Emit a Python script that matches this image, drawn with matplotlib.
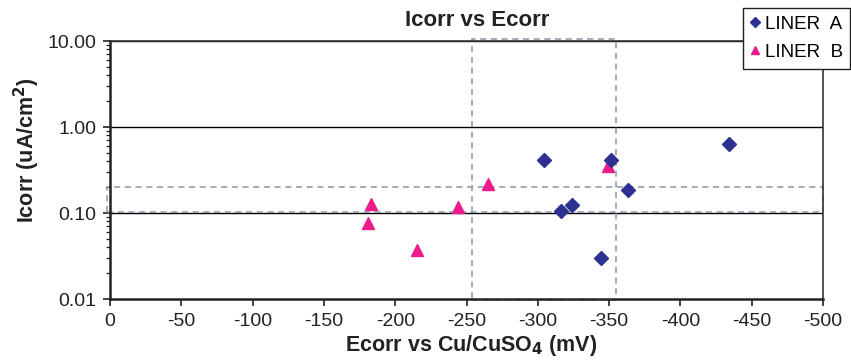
import matplotlib
matplotlib.use("Agg")
import matplotlib.pyplot as plt
from matplotlib.patches import Rectangle
from matplotlib.ticker import FixedLocator, LogLocator, FormatStrFormatter, NullFormatter

plt.rcParams['font.family'] = ['Liberation Sans', 'DejaVu Sans']

# Corrosion potential (mV vs Cu/CuSO4) and corrosion current density (uA/cm2)
liner_a_ecorr = [-304, -351, -434, -363, -316, -324, -344]
liner_a_icorr = [0.41, 0.41, 0.64, 0.185, 0.105, 0.123, 0.030]

liner_b_ecorr = [-349, -265, -244, -183, -181, -215]
liner_b_icorr = [0.35, 0.215, 0.118, 0.127, 0.077, 0.037]

# Reference windows drawn as dashed boxes
ecorr_window = (-254, -355)
icorr_window = (0.104, 0.20)

x_ticks = [0, -50, -100, -150, -200, -250, -300, -350, -400, -450, -500]
y_ticks = [0.01, 0.1, 1, 10]

W, H = 851, 361
fig = plt.figure(figsize=(W / 100, H / 100), dpi=100)
ax = fig.add_axes([110 / W, 1 - 299 / H, (823 - 110) / W, (299 - 41) / H])

ax.set_yscale('log')
ax.set_xlim(0, -500)
ax.set_ylim(0.01, 10)

# horizontal gridlines at decades
for y in y_ticks[1:]:
    ax.axhline(y, color='black', lw=1.0, zorder=1)

dash_col = '#8a96a6'
# vertical Ecorr window
x0, x1 = ecorr_window
ax.add_patch(Rectangle((x0, 0.00985), x1 - x0, 10.6 - 0.00985, fill=False,
                       ls=(0, (4, 3)), lw=1.1, ec=dash_col, clip_on=False, zorder=2))
# horizontal Icorr window
y0, y1 = icorr_window
ax.add_patch(Rectangle((2, y0), -502, y1 - y0, fill=False,
                       ls=(0, (4, 3)), lw=1.1, ec=dash_col, clip_on=False, zorder=2))

ax.plot(liner_a_ecorr, liner_a_icorr, ls='none', marker='D', ms=7,
        color='#2e3192', label='LINER  A', zorder=4, clip_on=False)
ax.plot(liner_b_ecorr, liner_b_icorr, ls='none', marker='^', ms=9,
        color='#ec1c8c', label='LINER  B', zorder=3, clip_on=False)

ax.xaxis.set_major_locator(FixedLocator(x_ticks))
ax.set_xticklabels([str(v) for v in x_ticks])
ax.yaxis.set_major_locator(FixedLocator(y_ticks))
ax.yaxis.set_major_formatter(FormatStrFormatter('%.2f'))
ax.yaxis.set_minor_locator(LogLocator(base=10, subs=range(2, 10)))
ax.yaxis.set_minor_formatter(NullFormatter())

ax.tick_params(axis='both', which='major', direction='out', length=5, width=1.2,
               labelsize=14, colors='#222222', labelcolor='#222222', pad=5)
ax.tick_params(axis='y', which='minor', direction='out', length=3, width=0.9, colors='#222222')
ax.tick_params(axis='x', which='minor', bottom=False)

for side in ['left', 'bottom']:
    ax.spines[side].set_linewidth(1.8)
    ax.spines[side].set_color('#222222')
for side in ['top', 'right']:
    ax.spines[side].set_linewidth(1.2)
    ax.spines[side].set_color('#333333')

fig.text(477 / W, 1 - 20.5 / H, 'Icorr vs Ecorr', fontsize=16, fontweight='bold',
         ha='center', va='center', color='#222222')
fig.text(471 / W, 1 - 345 / H, 'Ecorr vs Cu/CuSO$_\\mathbf{4}$ (mV)', fontsize=15.5,
         fontweight='bold', ha='center', va='center', color='#222222')
fig.text(27 / W, 1 - 150 / H, 'Icorr (uA/cm$^\\mathbf{2}$)', fontsize=15.5,
         fontweight='bold', ha='center', va='center', rotation=90, color='#222222')

leg = fig.legend(loc='upper left', bbox_to_anchor=(743 / W, 1 - 8 / H),
                 fontsize=13.5, frameon=True, fancybox=False, framealpha=1.0,
                 handlelength=0.5, handletextpad=0.25, borderpad=0.4,
                 labelspacing=0.6, borderaxespad=0, markerscale=0.7)
leg.get_frame().set_edgecolor('#222222')
leg.get_frame().set_linewidth(1.0)

fig.savefig('out.png', dpi=100)
